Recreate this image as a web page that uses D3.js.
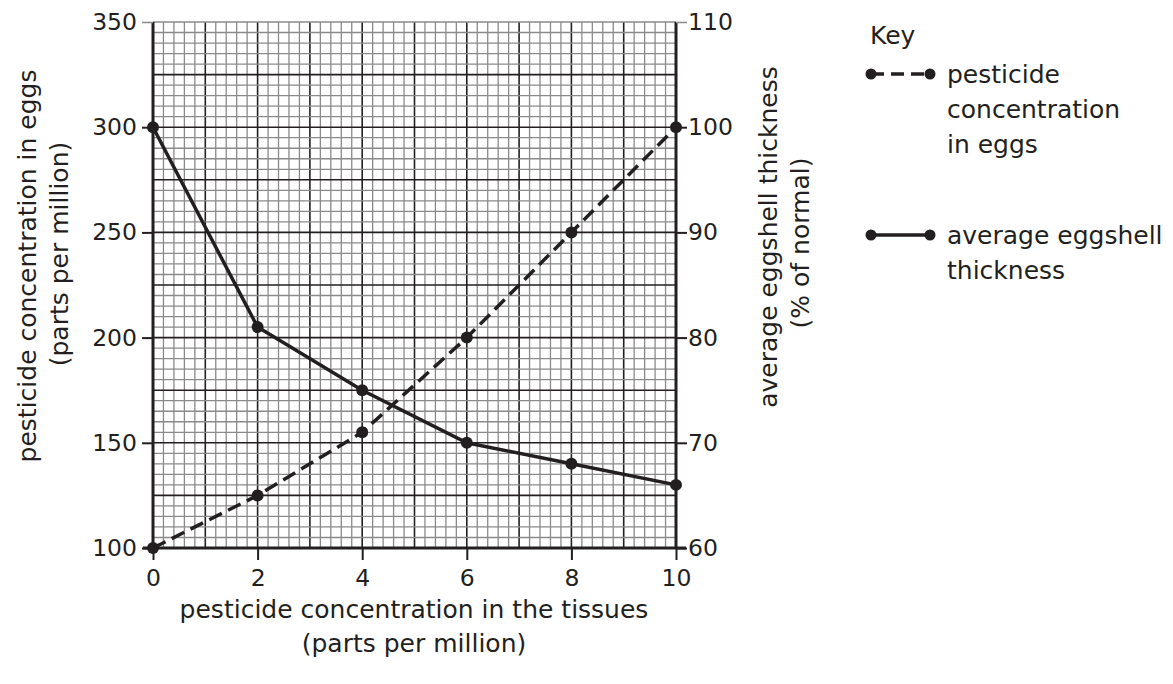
<!doctype html>
<html lang="en">
  <head>
    <meta charset="utf-8">
    <script src="https://cdn.jsdelivr.net/npm/d3@7"></script>
    <style>
body { margin: 0; background: #fff; }
svg text {
	font-family: "DejaVu Sans", sans-serif;
	fill: #231f20;
}
.tick-label { font-size: 23.5px; }
.title { font-size: 25px; }
    </style>
  </head>
  <body>
    <svg id="chart" width="1173" height="684"></svg>
    <script type="text/javascript">
//=============================== DATA ===================================
var xValues			= [0, 2, 4, 6, 8, 10]
var pesticideEggs	= [100, 125, 155, 200, 250, 300]	// left axis, ppm
var shellThickness	= [100, 81, 75, 70, 68, 66]		// right axis, % of normal
var xTicks			= [0, 2, 4, 6, 8, 10]
var leftTicks		= [100, 150, 200, 250, 300, 350]
var rightTicks		= [60, 70, 80, 90, 100, 110]

//=============================== SCALES =================================
var pL = 153, pR = 676, pT = 22, pB = 548
var ink = '#231f20'
var minorInk = '#8a8a8a'

var x	= d3.scaleLinear().domain([0, 10]).range([pL, pR])
var yL	= d3.scaleLinear().domain([100, 350]).range([pB, pT])
var yR	= d3.scaleLinear().domain([60, 110]).range([pB, pT])

var svg = d3.select('#chart')

//=============================== GRID ===================================
var grid = svg.append('g')
// minor every 0.2 on x and every 5 on the left axis, major every 1 / 25
d3.range(0, 10.001, 0.2).forEach((v)=>{
	let major = Math.abs(v - Math.round(v)) < 1e-6
	grid.append('line')
		.attr('x1', x(v)).attr('x2', x(v)).attr('y1', pT).attr('y2', pB)
		.attr('stroke', major ? ink : minorInk).attr('stroke-width', major ? 1.6 : 1.3)
})
d3.range(100, 350.001, 5).forEach((v)=>{
	let major = v % 25 == 0 && v != 350
	grid.append('line')
		.attr('x1', pL).attr('x2', pR).attr('y1', yL(v)).attr('y2', yL(v))
		.attr('stroke', major ? ink : minorInk).attr('stroke-width', major ? 1.6 : 1.3)
})

//=============================== AXES ===================================
var axL = svg.append('g').attr('transform', `translate(${pL},0)`)
	.call(d3.axisLeft(yL).tickValues(leftTicks).tickSize(11).tickPadding(5))
var axR = svg.append('g').attr('transform', `translate(${pR},0)`)
	.call(d3.axisRight(yR).tickValues(rightTicks).tickSize(11).tickPadding(1))
var axB = svg.append('g').attr('transform', `translate(0,${pB})`)
	.call(d3.axisBottom(x).tickValues(xTicks).tickSize(12).tickPadding(9))

;[axL, axR, axB].forEach((ax)=>{
	ax.select('.domain').attr('stroke', ink).attr('stroke-width', 3)
	ax.selectAll('.tick line').attr('stroke', ink).attr('stroke-width', 2)
	ax.selectAll('.tick text').classed('tick-label', true)
		.attr('font-size', null).attr('font-family', null).attr('fill', ink)
})
// top tick lines are lighter like the grid line they belong to
axL.selectAll('.tick').filter((d)=>d == 350).select('line').attr('stroke', minorInk).attr('stroke-width', 1.5)
axR.selectAll('.tick').filter((d)=>d == 110).select('line').attr('stroke', minorInk).attr('stroke-width', 1.5)
axL.select('.domain').attr('d', `M0,${pB}V${pT}`)
axR.select('.domain').attr('d', `M0,${pB}V${pT}`)
axB.select('.domain').attr('d', `M${pL - 10},0H${pR + 10}`)

//=============================== TITLES =================================
function vtitle(cx, cy, txt) {
	svg.append('text').attr('class', 'title')
		.attr('transform', `translate(${cx},${cy}) rotate(-90)`)
		.attr('text-anchor', 'middle').attr('dy', '0.35em').text(txt)
}
vtitle(27, 266, 'pesticide concentration in eggs')
vtitle(59, 254, '(parts per million)')
vtitle(768, 237, 'average eggshell thickness')
vtitle(800, 243, '(% of normal)')

svg.append('text').attr('class', 'title').attr('x', 414).attr('y', 609)
	.attr('text-anchor', 'middle').attr('dy', '0.35em').text('pesticide concentration in the tissues')
svg.append('text').attr('class', 'title').attr('x', 414).attr('y', 643)
	.attr('text-anchor', 'middle').attr('dy', '0.35em').text('(parts per million)')

//=============================== LINES ==================================
var series = [
	{ vals: pesticideEggs, y: yL, dash: '14,7' },
	{ vals: shellThickness, y: yR, dash: null }
]
series.forEach((s)=>{
	let pts = xValues.map((xv, i)=>[x(xv), s.y(s.vals[i])])
	svg.append('path').attr('d', d3.line()(pts))
		.attr('fill', 'none').attr('stroke', ink).attr('stroke-width', 3.5)
		.attr('stroke-dasharray', s.dash)
	svg.selectAll(null).data(pts).enter().append('circle')
		.attr('cx', (d)=>d[0]).attr('cy', (d)=>d[1]).attr('r', 6).attr('fill', ink)
})

//=============================== KEY ====================================
svg.append('text').attr('class', 'title').attr('x', 870).attr('y', 35).attr('dy', '0.35em').text('Key')
var key = [
	{ y: 74, dash: '13,7', lines: ['pesticide', 'concentration', 'in eggs'] },
	{ y: 235, dash: null, lines: ['average eggshell', 'thickness'] }
]
key.forEach((k)=>{
	svg.append('line').attr('x1', 871).attr('x2', 930).attr('y1', k.y).attr('y2', k.y)
		.attr('stroke', ink).attr('stroke-width', 3.5).attr('stroke-dasharray', k.dash)
	;[871, 930].forEach((cx)=>{
		svg.append('circle').attr('cx', cx).attr('cy', k.y).attr('r', 5.5).attr('fill', ink)
	})
	k.lines.forEach((t, i)=>{
		svg.append('text').attr('class', 'title').attr('x', 947).attr('y', k.y + i * 35)
			.attr('dy', '0.35em').text(t)
	})
})
    </script>
  </body>
</html>
